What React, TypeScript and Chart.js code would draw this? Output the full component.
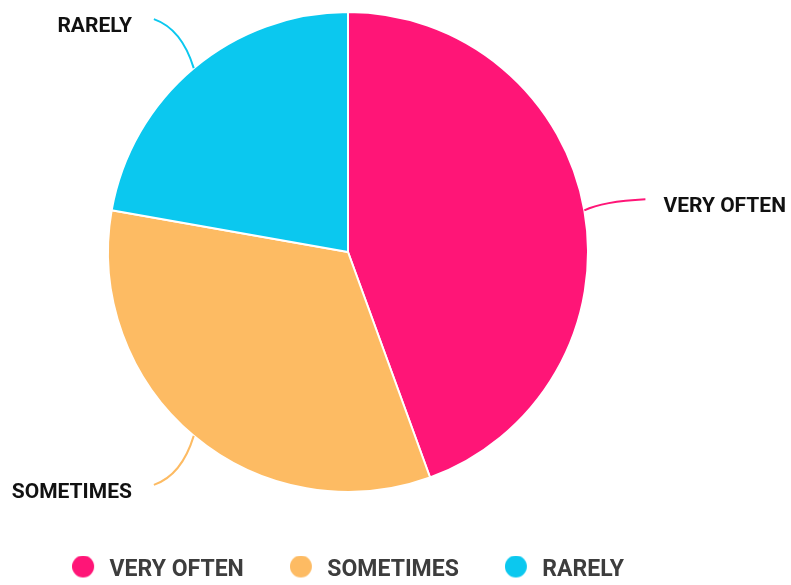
import React, { useEffect, useRef } from "react";
import { Chart, registerables } from "chart.js";

Chart.register(...registerables);

const categories = ["VERY OFTEN", "SOMETIMES", "RARELY"];
const values = [44, 33, 22];
const colors = ["#FF1577", "#FDBB63", "#0BC8EF"];

const outsideLabels = {
  id: "outsideLabels",
  afterDatasetsDraw(chart: any) {
    const ctx = chart.ctx;
    const meta = chart.getDatasetMeta(0);
    ctx.save();
    meta.data.forEach((arc: any, i: number) => {
      const { x, y, startAngle, endAngle, outerRadius } = arc.getProps(
        ["x", "y", "startAngle", "endAngle", "outerRadius"],
        true
      );
      const mid = (startAngle + endAngle) / 2;
      const cos = Math.cos(mid);
      const sin = Math.sin(mid);
      const p0x = x + cos * outerRadius;
      const p0y = y + sin * outerRadius;
      const p2x = x + cos * (outerRadius + 62);
      const p2y = y + sin * (outerRadius + 64);
      const cx = p0x + 0.3 * (p2x - p0x);
      const cy = p0y + 0.8 * (p2y - p0y);
      ctx.beginPath();
      ctx.moveTo(p0x, p0y);
      ctx.quadraticCurveTo(cx, cy, p2x, p2y);
      ctx.strokeStyle = colors[i];
      ctx.lineWidth = 2;
      ctx.stroke();
      const right = cos >= 0;
      ctx.font = "bold 21px Roboto";
      ctx.fillStyle = "#111111";
      ctx.textAlign = right ? "left" : "right";
      ctx.textBaseline = "middle";
      ctx.fillText(categories[i], right ? p2x + 18 : p2x - 22, p2y + 8);
    });
    ctx.restore();
  },
};

function makeDot(color: string): HTMLCanvasElement {
  const c = document.createElement("canvas");
  c.width = 26;
  c.height = 30;
  const g = c.getContext("2d");
  if (g) {
    g.fillStyle = color;
    g.beginPath();
    g.arc(11, 11, 11, 0, Math.PI * 2);
    g.fill();
  }
  return c;
}

export default function App() {
  const canvasRef = useRef<HTMLCanvasElement | null>(null);

  useEffect(() => {
    document.body.style.margin = "0";
    const canvas = canvasRef.current;
    if (!canvas) return;
    const dots = colors.map(makeDot);
    const chart = new Chart(canvas, {
      type: "pie",
      data: {
        labels: categories,
        datasets: [
          {
            data: values,
            backgroundColor: colors,
            borderColor: "#ffffff",
            borderWidth: 2,
            radius: 240,
          },
        ],
      },
      options: {
        responsive: false,
        animation: false,
        events: [],
        layout: { padding: { top: 0, left: 0, right: 95, bottom: 0 } },
        plugins: {
          tooltip: { enabled: false },
          legend: {
            position: "bottom",
            align: "center",
            title: {
              display: true,
              text: " ",
              padding: 0,
              font: { size: 9, lineHeight: 1 },
            },
            labels: {
              usePointStyle: true,
              boxHeight: 22,
              pointStyleWidth: 26,
              padding: 46,
              color: "#3d3d3d",
              font: { family: "Roboto", size: 23, weight: "bold" },
              generateLabels: () =>
                categories.map((text, i) => ({
                  text,
                  fillStyle: colors[i],
                  strokeStyle: colors[i],
                  lineWidth: 0,
                  fontColor: "#3d3d3d",
                  pointStyle: dots[i],
                  hidden: false,
                  index: i,
                })),
            },
          },
        },
      },
      plugins: [outsideLabels],
    });
    return () => chart.destroy();
  }, []);

  return (
    <div style={{ width: 791, height: 585, overflow: "hidden" }}>
      <canvas ref={canvasRef} width={791} height={592} style={{ display: "block" }} />
    </div>
  );
}
